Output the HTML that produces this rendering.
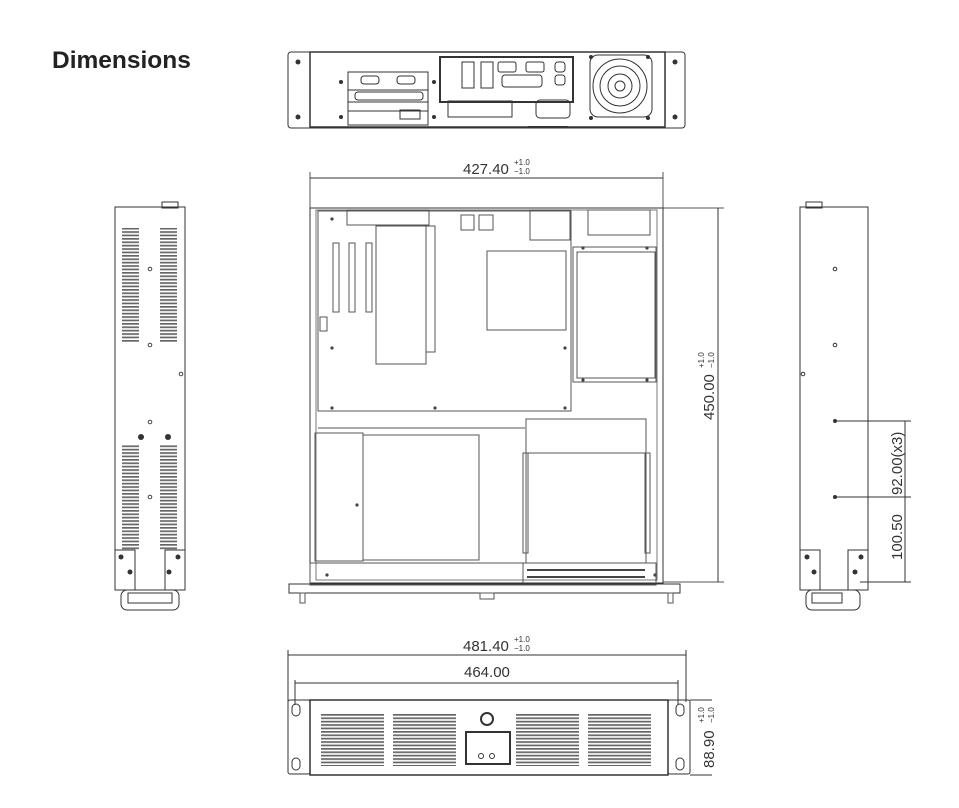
<!DOCTYPE html>
<html><head><meta charset="utf-8"><style>
html,body{margin:0;padding:0;background:#fff;width:959px;height:808px;overflow:hidden}
svg{display:block}
text{font-family:"Liberation Sans",sans-serif;fill:#333}
</style></head><body>
<svg width="959" height="808" viewBox="0 0 959 808" xmlns="http://www.w3.org/2000/svg">
<defs>
<pattern id="vent" width="10" height="3.4" patternUnits="userSpaceOnUse"><rect width="10" height="1.7" fill="#666"/></pattern>
</defs>
<text x="52" y="68" font-size="24.5" font-weight="bold" style="fill:#222">Dimensions</text>

<!-- REAR VIEW -->
<g stroke="#333" fill="none" stroke-width="1">
<rect x="288" y="52" width="397" height="76" rx="3"/>
<rect x="310" y="52" width="355" height="75" stroke-width="1.5"/>
<rect x="348" y="72" width="80" height="53"/>
<line x1="348" y1="90" x2="428" y2="90"/><line x1="348" y1="102" x2="428" y2="102"/><line x1="348" y1="111" x2="428" y2="111"/>
<rect x="361" y="76" width="18" height="8" rx="3"/><rect x="397" y="76" width="18" height="8" rx="3"/>
<rect x="355" y="92" width="68" height="8" rx="3"/>
<rect x="400" y="110" width="20" height="9"/>
<rect x="440" y="57" width="133" height="45" stroke-width="2"/>
<rect x="462" y="62" width="12" height="26"/><rect x="481" y="62" width="12" height="26"/>
<rect x="498" y="62" width="18" height="10" rx="2"/><rect x="526" y="62" width="18" height="10" rx="2"/>
<rect x="502" y="75" width="40" height="12" rx="3"/>
<rect x="555" y="62" width="10" height="10" rx="3"/><rect x="555" y="75" width="10" height="10" rx="3"/>
<rect x="448" y="101" width="64" height="16"/>
<rect x="536" y="100" width="34" height="18" rx="4"/>
<rect x="590" y="55" width="62" height="62" rx="8"/>
<circle cx="620" cy="86" r="27"/><circle cx="620" cy="86" r="20"/><circle cx="620" cy="86" r="12"/><circle cx="620" cy="86" r="5"/>
</g>
<g fill="#333"><circle cx="298" cy="62" r="2.5"/><circle cx="298" cy="117" r="2.5"/><circle cx="675" cy="62" r="2.5"/><circle cx="675" cy="117" r="2.5"/>
<circle cx="341" cy="82" r="2"/><circle cx="341" cy="117" r="2"/><circle cx="434" cy="82" r="2"/><circle cx="434" cy="117" r="2"/>
<circle cx="591" cy="57" r="2"/><circle cx="648" cy="57" r="2"/><circle cx="591" cy="118" r="2"/><circle cx="648" cy="118" r="2"/>
<rect x="528" y="126" width="40" height="2"/></g>

<!-- TOP VIEW -->
<g stroke="#555" fill="none" stroke-width="1">
<line x1="310" y1="172" x2="310" y2="208"/><line x1="663" y1="172" x2="663" y2="208"/>
<line x1="310" y1="178" x2="663" y2="178" stroke="#333"/>
<line x1="663" y1="208" x2="724" y2="208"/><line x1="663" y1="582" x2="724" y2="582"/>
<line x1="718" y1="208" x2="718" y2="582" stroke="#333"/>
<rect x="310" y="208" width="353" height="375" stroke="#333"/>
<rect x="316" y="210" width="341" height="370" stroke="#777"/>
<rect x="318" y="211" width="253" height="200"/>
<rect x="347" y="210" width="82" height="15"/>
<rect x="376" y="226" width="50" height="138"/>
<rect x="426" y="226" width="9" height="126"/>
<rect x="333" y="243" width="6" height="69"/><rect x="349" y="243" width="6" height="69"/><rect x="366" y="243" width="6" height="69"/>
<rect x="320" y="317" width="7" height="14"/>
<rect x="487" y="251" width="79" height="79"/>
<rect x="573" y="247" width="83" height="135"/>
<rect x="577" y="252" width="78" height="126"/>
<rect x="588" y="210" width="62" height="25"/>
<rect x="530" y="210" width="40" height="30"/>
<rect x="461" y="215" width="13" height="15"/><rect x="479" y="215" width="14" height="15"/>
<line x1="318" y1="428" x2="525" y2="428"/>
<rect x="315" y="433" width="48" height="128"/>
<rect x="363" y="435" width="116" height="125"/>
<rect x="526" y="419" width="120" height="34"/>
<rect x="526" y="453" width="120" height="110"/>
<rect x="523" y="453" width="5" height="100"/><rect x="645" y="453" width="5" height="100"/>
<rect x="310" y="563" width="213" height="22"/>
<rect x="523" y="563" width="133" height="22"/>
<line x1="527" y1="570" x2="645" y2="570" stroke-width="2" stroke="#444"/>
<line x1="527" y1="577" x2="645" y2="577" stroke-width="2" stroke="#444"/>
<rect x="289" y="584" width="391" height="9" stroke="#333"/>
<rect x="300" y="593" width="5" height="10"/><rect x="668" y="593" width="5" height="10"/>
<rect x="480" y="593" width="14" height="6"/>
</g>
<g fill="#444">
<circle cx="332" cy="219" r="1.6"/><circle cx="332" cy="348" r="1.6"/><circle cx="332" cy="408" r="1.6"/><circle cx="435" cy="408" r="1.6"/><circle cx="565" cy="408" r="1.6"/><circle cx="565" cy="348" r="1.6"/>
<circle cx="583" cy="248" r="1.6"/><circle cx="647" cy="248" r="1.6"/><circle cx="583" cy="380" r="1.6"/><circle cx="647" cy="380" r="1.6"/>
<circle cx="327" cy="575" r="1.6"/><circle cx="655" cy="575" r="1.6"/><circle cx="357" cy="505" r="1.6"/>
</g>
<text x="463" y="174" font-size="15">427.40</text>
<text x="514" y="165" font-size="8">+1.0</text><text x="514" y="174" font-size="8">−1.0</text>
<g transform="translate(714,420) rotate(-90)"><text x="0" y="0" font-size="15">450.00</text><text x="52" y="-10" font-size="8">+1.0</text><text x="52" y="0" font-size="8">−1.0</text></g>

<!-- LEFT SIDE VIEW -->
<g stroke="#333" fill="none">
<rect x="115" y="207" width="70" height="383"/>
<rect x="162" y="202" width="16" height="6"/>
<rect x="115" y="550" width="20" height="40"/><rect x="165" y="550" width="20" height="40"/>
<rect x="121" y="590" width="58" height="20" rx="6"/>
<rect x="128" y="593" width="44" height="10"/>
</g>
<rect x="122" y="228" width="17" height="115" fill="url(#vent)"/>
<rect x="160" y="228" width="17" height="115" fill="url(#vent)"/>
<rect x="122" y="444" width="17" height="106" fill="url(#vent)"/>
<rect x="160" y="444" width="17" height="106" fill="url(#vent)"/>
<g fill="none" stroke="#444"><circle cx="150" cy="269" r="1.8"/><circle cx="150" cy="345" r="1.8"/><circle cx="181" cy="374" r="1.8"/><circle cx="150" cy="422" r="1.8"/><circle cx="150" cy="497" r="1.8"/></g>
<g fill="#333"><circle cx="141" cy="437" r="3"/><circle cx="168" cy="437" r="3"/><circle cx="121" cy="557" r="2.5"/><circle cx="178" cy="557" r="2.5"/><circle cx="130" cy="572" r="2.5"/><circle cx="169" cy="572" r="2.5"/></g>

<!-- RIGHT SIDE VIEW -->
<g stroke="#333" fill="none">
<rect x="800" y="207" width="68" height="383"/>
<rect x="806" y="202" width="16" height="6"/>
<rect x="800" y="550" width="20" height="40"/><rect x="848" y="550" width="20" height="40"/>
<rect x="806" y="590" width="54" height="20" rx="6"/>
<rect x="812" y="593" width="30" height="10"/>
<line x1="835" y1="421" x2="911" y2="421"/><line x1="835" y1="497" x2="911" y2="497"/><line x1="860" y1="582" x2="911" y2="582"/>
<line x1="905" y1="421" x2="905" y2="582"/>
<circle cx="835" cy="269" r="1.8"/><circle cx="835" cy="345" r="1.8"/><circle cx="803" cy="374" r="1.8"/>
</g>
<g fill="#333"><circle cx="835" cy="421" r="2"/><circle cx="835" cy="497" r="2"/><circle cx="807" cy="557" r="2.5"/><circle cx="861" cy="557" r="2.5"/><circle cx="814" cy="572" r="2.5"/><circle cx="855" cy="572" r="2.5"/></g>
<g transform="translate(902,495) rotate(-90)"><text x="0" y="0" font-size="15">92.00(x3)</text></g>
<g transform="translate(902,560) rotate(-90)"><text x="0" y="0" font-size="15">100.50</text></g>

<!-- FRONT VIEW -->
<g stroke="#333" fill="none">
<line x1="288" y1="650" x2="288" y2="702"/><line x1="686" y1="650" x2="686" y2="702"/>
<line x1="288" y1="655" x2="686" y2="655"/>
<line x1="295" y1="680" x2="295" y2="705"/><line x1="678" y1="680" x2="678" y2="705"/>
<line x1="295" y1="683" x2="678" y2="683"/>
<rect x="288" y="700" width="22" height="74" rx="2"/><rect x="668" y="700" width="22" height="74" rx="2"/>
<rect x="292" y="704" width="8" height="12" rx="4"/><rect x="292" y="758" width="8" height="12" rx="4"/>
<rect x="676" y="704" width="8" height="12" rx="4"/><rect x="676" y="758" width="8" height="12" rx="4"/>
<rect x="310" y="700" width="358" height="75" stroke-width="1.5"/>
<line x1="690" y1="700" x2="712" y2="700"/><line x1="690" y1="775" x2="712" y2="775"/>
<rect x="466" y="732" width="44" height="32" stroke-width="2"/>
<circle cx="487" cy="719" r="6" stroke-width="2"/>
<circle cx="481" cy="756" r="2.5"/><circle cx="492" cy="756" r="2.5"/>
</g>
<rect x="321" y="714" width="63" height="52" fill="url(#vent)"/>
<rect x="393" y="714" width="63" height="52" fill="url(#vent)"/>
<rect x="516" y="714" width="63" height="52" fill="url(#vent)"/>
<rect x="588" y="714" width="63" height="52" fill="url(#vent)"/>
<text x="463" y="651" font-size="15">481.40</text>
<text x="514" y="642" font-size="8">+1.0</text><text x="514" y="651" font-size="8">−1.0</text>
<text x="464" y="677" font-size="15">464.00</text>
<g transform="translate(714,768) rotate(-90)"><text x="0" y="0" font-size="15">88.90</text><text x="45" y="-10" font-size="8">+1.0</text><text x="45" y="0" font-size="8">−1.0</text></g>
</svg>
</body></html>
